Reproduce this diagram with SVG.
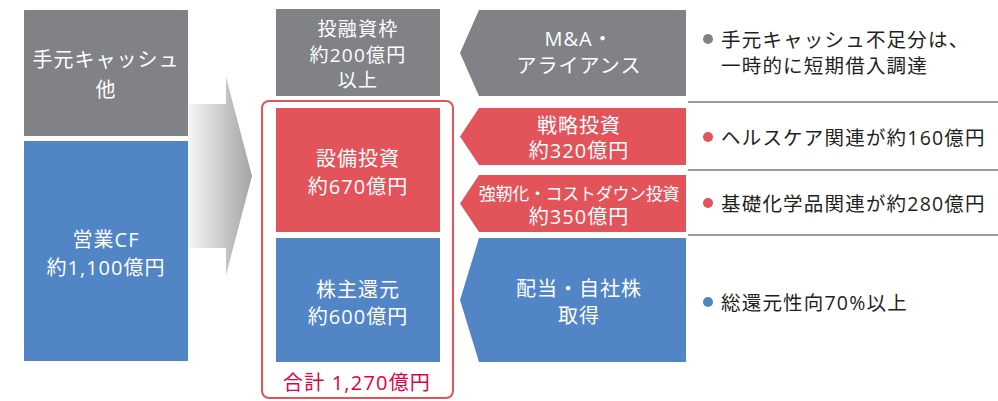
<svg xmlns="http://www.w3.org/2000/svg" width="998" height="401" viewBox="0 0 998 401">
<defs>
<linearGradient id="g2" gradientUnits="userSpaceOnUse" x1="188" y1="0" x2="252" y2="0">
<stop offset="0" stop-color="#f7f7f7"/>
<stop offset="1" stop-color="#a2a3a5"/>
</linearGradient>
</defs>
<style>
text{font-family:"Open Sans","Noto Sans CJK JP",sans-serif;dominant-baseline:central;text-anchor:middle}
.w{fill:#ffffff;font-size:20px;letter-spacing:1px}
.t{fill:#ffffff;font-size:19px;letter-spacing:1.2px}
.s{fill:#ffffff;font-size:17px;letter-spacing:-0.3px}
.k{fill:#231f20;font-size:19.5px;letter-spacing:1.2px;text-anchor:start}
.gray{fill:#808285}
.red{fill:#e2535a}
.blue{fill:#5185c6}
.sep{stroke:#3a3a3a;stroke-width:1.2}
</style>
<rect width="998" height="401" fill="#ffffff"/>
<g id="connectors">
<path d="M188 104 H226 V77 L252 176 L226 275 V248 H188 Z" fill="url(#g2)"/>
<line class="sep" x1="688" y1="102" x2="998" y2="102"/>
<line class="sep" x1="688" y1="170" x2="998" y2="170"/>
<line class="sep" x1="688" y1="235" x2="998" y2="235"/>
</g>
<g id="cash">
<rect class="gray" x="24" y="10" width="164" height="126"/>
<text class="w" x="106" y="59">手元キャッシュ</text>
<text class="w" x="106" y="89">他</text>
</g>
<g id="opcf">
<rect class="blue" x="24" y="141" width="164" height="220"/>
<text class="w" x="106" y="239">営業CF</text>
<text class="w" x="106" y="267">約1,100億円</text>
</g>
<g id="total">
<rect x="262" y="101" width="191" height="297" rx="7" fill="none" stroke="#e2535a" stroke-width="2"/>
<text x="357" y="382" style="fill:#e4003f;font-size:20px;letter-spacing:1.2px">合計 1,270億円</text>
</g>
<g id="invest-frame">
<rect class="gray" x="276" y="9" width="164" height="87"/>
<text class="t" x="358" y="29">投融資枠</text>
<text class="t" x="358" y="55">約200億円</text>
<text class="t" x="358" y="80">以上</text>
</g>
<g id="capex">
<rect class="red" x="276" y="108" width="164" height="124"/>
<text class="w" x="358" y="158">設備投資</text>
<text class="w" x="358" y="186">約670億円</text>
</g>
<g id="return">
<rect class="blue" x="276" y="238" width="164" height="124"/>
<text class="w" x="358" y="289">株主還元</text>
<text class="w" x="358" y="316">約600億円</text>
</g>
<g id="ma">
<path class="gray" d="M479 10 H686 V96 H479 L460 53 Z"/>
<text class="w" x="579" y="38">M&amp;A・</text>
<text class="w" x="579" y="65">アライアンス</text>
</g>
<g id="strategic">
<path class="red" d="M479 108 H686 V165 H479 L460 136.5 Z"/>
<text class="w" x="579" y="125">戦略投資</text>
<text class="w" x="579" y="150">約320億円</text>
</g>
<g id="resilience">
<path class="red" d="M479 175 H686 V232 H479 L460 203.5 Z"/>
<text class="s" x="579" y="193">強靭化・コストダウン投資</text>
<text class="w" x="579" y="216">約350億円</text>
</g>
<g id="dividend">
<path class="blue" d="M479 238 H686 V362 H479 L460 300 Z"/>
<text class="w" x="579" y="288">配当・自社株</text>
<text class="w" x="579" y="315">取得</text>
</g>
<g id="note-cash">
<circle class="gray" cx="708" cy="39" r="5"/>
<text class="k" x="721" y="39">手元キャッシュ不足分は、</text>
<text class="k" x="721" y="65">一時的に短期借入調達</text>
</g>
<g id="note-health">
<circle class="red" cx="708" cy="137" r="5"/>
<text class="k" x="721" y="137">ヘルスケア関連が約160億円</text>
</g>
<g id="note-chem">
<circle class="red" cx="708" cy="203" r="5"/>
<text class="k" x="721" y="203">基礎化学品関連が約280億円</text>
</g>
<g id="note-return">
<circle class="blue" cx="708" cy="302" r="5"/>
<text class="k" x="721" y="302">総還元性向70%以上</text>
</g>
</svg>
